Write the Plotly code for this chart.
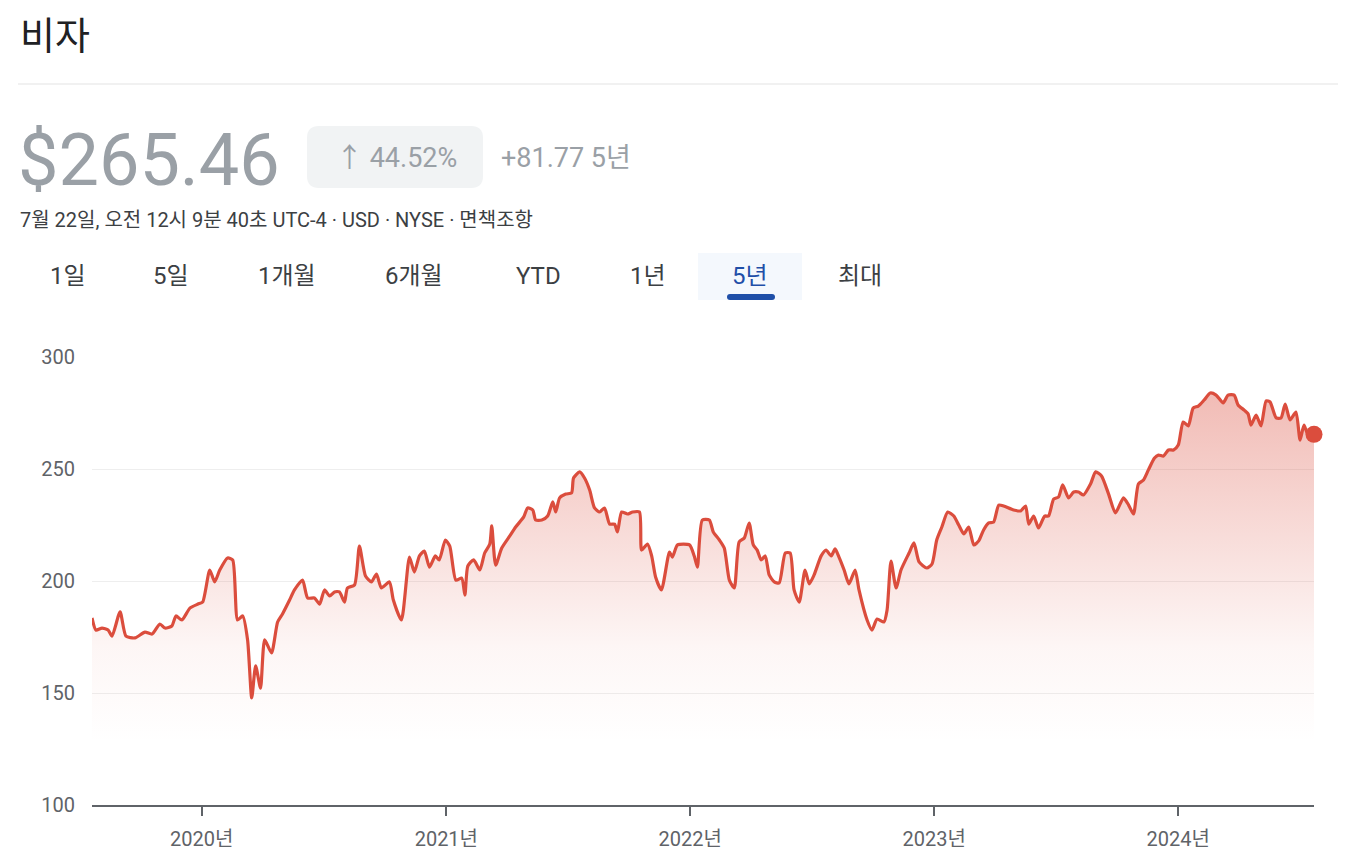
import pandas as pd
import plotly.graph_objects as go

# 비자 (V) 5년 주가 — 그림에서 읽은 근사값 (소수 연도, 종가 USD)
years = [
    2019.550, 2019.566, 2019.591, 2019.616, 2019.632, 2019.665, 2019.689, 2019.726, 2019.767, 2019.796,
    2019.828, 2019.849, 2019.877, 2019.894, 2019.918, 2019.951, 2019.984, 2020.004, 2020.033, 2020.053,
    2020.074, 2020.106, 2020.127, 2020.147, 2020.168, 2020.188, 2020.205, 2020.221, 2020.241, 2020.258,
    2020.286, 2020.311, 2020.331, 2020.360, 2020.380, 2020.413, 2020.434, 2020.462, 2020.483, 2020.503,
    2020.524, 2020.544, 2020.564, 2020.585, 2020.597, 2020.626, 2020.646, 2020.671, 2020.695, 2020.716,
    2020.736, 2020.769, 2020.785, 2020.818, 2020.851, 2020.871, 2020.892, 2020.912, 2020.933, 2020.957,
    2020.973, 2020.998, 2021.014, 2021.039, 2021.063, 2021.076, 2021.088, 2021.112, 2021.137, 2021.157,
    2021.178, 2021.186, 2021.202, 2021.227, 2021.260, 2021.284, 2021.317, 2021.333, 2021.354, 2021.366,
    2021.391, 2021.415, 2021.436, 2021.448, 2021.464, 2021.489, 2021.513, 2021.521, 2021.546, 2021.566,
    2021.587, 2021.607, 2021.628, 2021.648, 2021.669, 2021.689, 2021.701, 2021.718, 2021.742, 2021.763,
    2021.791, 2021.800, 2021.824, 2021.841, 2021.857, 2021.881, 2021.914, 2021.926, 2021.947, 2021.996,
    2022.016, 2022.029, 2022.049, 2022.078, 2022.094, 2022.119, 2022.139, 2022.160, 2022.180, 2022.200,
    2022.221, 2022.241, 2022.258, 2022.274, 2022.290, 2022.307, 2022.323, 2022.344, 2022.364, 2022.389,
    2022.409, 2022.425, 2022.446, 2022.470, 2022.487, 2022.507, 2022.536, 2022.556, 2022.577, 2022.593,
    2022.609, 2022.630, 2022.650, 2022.675, 2022.691, 2022.724, 2022.744, 2022.765, 2022.793, 2022.806,
    2022.822, 2022.843, 2022.863, 2022.896, 2022.916, 2022.937, 2022.969, 2022.990, 2023.010, 2023.031,
    2023.055, 2023.080, 2023.100, 2023.121, 2023.141, 2023.162, 2023.182, 2023.202, 2023.223, 2023.243,
    2023.264, 2023.284, 2023.325, 2023.354, 2023.374, 2023.387, 2023.407, 2023.427, 2023.452, 2023.468,
    2023.489, 2023.509, 2023.526, 2023.550, 2023.571, 2023.591, 2023.611, 2023.640, 2023.661, 2023.685,
    2023.714, 2023.742, 2023.775, 2023.796, 2023.816, 2023.836, 2023.857, 2023.877, 2023.902, 2023.918,
    2023.939, 2023.959, 2023.980, 2024.000, 2024.020, 2024.041, 2024.061, 2024.082, 2024.106, 2024.131,
    2024.155, 2024.184, 2024.204, 2024.229, 2024.245, 2024.270, 2024.286, 2024.298, 2024.319, 2024.339,
    2024.360, 2024.376, 2024.401, 2024.421, 2024.438, 2024.458, 2024.482, 2024.499, 2024.515, 2024.532,
    2024.556,
]
prices = [
    183.5, 178.1, 179.0, 178.1, 175.4, 186.2, 175.4, 174.6, 177.2, 176.3,
    180.8, 179.0, 179.9, 184.4, 182.6, 187.9, 189.7, 190.6, 204.9, 199.6,
    204.9, 210.3, 209.4, 182.6, 184.4, 173.7, 147.8, 162.1, 152.2, 173.7,
    167.9, 181.7, 185.3, 191.5, 196.0, 200.4, 192.4, 192.4, 189.7, 196.0,
    193.3, 195.1, 195.1, 190.6, 196.9, 198.2, 215.6, 202.2, 199.6, 203.1,
    196.9, 199.6, 191.5, 182.6, 210.7, 204.0, 211.2, 213.4, 206.2, 211.2,
    209.4, 218.3, 215.6, 200.4, 201.3, 193.7, 206.7, 209.4, 204.9, 212.5,
    216.5, 224.6, 207.1, 214.7, 220.1, 224.1, 228.6, 232.6, 231.7, 227.2,
    227.2, 229.0, 235.3, 230.8, 237.1, 238.8, 239.3, 246.0, 248.7, 246.0,
    240.6, 232.6, 230.8, 232.6, 225.4, 225.4, 221.9, 230.8, 229.9, 230.8,
    230.8, 213.8, 216.5, 211.2, 201.8, 196.0, 212.9, 210.7, 216.1, 216.1,
    211.2, 206.2, 227.2, 227.2, 221.9, 218.3, 214.7, 200.4, 196.9, 217.4,
    219.2, 225.9, 216.1, 213.8, 209.4, 211.2, 202.7, 199.6, 199.1, 212.5,
    212.5, 196.0, 190.6, 204.9, 198.7, 202.7, 211.2, 213.8, 211.2, 214.3,
    210.7, 204.9, 198.7, 204.9, 196.0, 182.6, 178.1, 183.0, 181.7, 187.1,
    208.9, 196.9, 204.9, 212.5, 217.0, 208.5, 205.8, 207.6, 218.3, 224.1,
    230.8, 229.0, 225.0, 221.0, 224.1, 216.1, 217.9, 222.8, 225.9, 226.3,
    233.9, 233.5, 231.7, 231.3, 233.5, 225.4, 229.0, 223.7, 229.0, 229.0,
    236.6, 237.5, 242.9, 237.1, 239.7, 239.7, 238.4, 243.3, 248.7, 246.9,
    238.8, 230.4, 237.1, 233.9, 229.9, 243.3, 245.1, 249.6, 254.9, 256.2,
    255.8, 258.5, 258.5, 260.7, 271.0, 269.2, 277.2, 278.1, 280.8, 283.9,
    283.0, 279.5, 283.0, 283.0, 278.6, 276.3, 274.6, 269.6, 274.1, 269.2,
    280.4, 279.9, 272.8, 272.8, 279.0, 271.9, 275.4, 262.9, 269.6, 265.2,
    265.46,
]
year_ticks = [2020, 2021, 2022, 2023, 2024]
year_labels = [f"{y}년" for y in year_ticks]
y_ticks = [100, 150, 200, 250, 300]
tabs = ["1일", "5일", "1개월", "6개월", "YTD", "1년", "5년", "최대"]
selected_tab = "5년"


def to_date(y):
    base = pd.Timestamp(int(y), 1, 1)
    return base + pd.Timedelta(days=(y - int(y)) * 365.25)


dates = [to_date(y) for y in years]

# 페이지 body 여백(8px) 보정
OFF = 8
W, H = 1346, 868
L, R, T, B = 92 - OFF, 32 + OFF, 357 - OFF, 63 + OFF
PW, PH = W - L - R, H - T - B


def px(x):
    return (x - OFF - L) / PW


def py(y):
    return 1 - (y - OFF - T) / PH


def rounded_rect(x0, y0, x1, y1, r):
    # 화면 픽셀 좌표 → paper 좌표의 둥근 사각형 path
    def P(x, y):
        return f"{px(x)},{py(y)}"
    return (f"M{P(x0 + r, y0)} L{P(x1 - r, y0)} Q{P(x1, y0)} {P(x1, y0 + r)} "
            f"L{P(x1, y1 - r)} Q{P(x1, y1)} {P(x1 - r, y1)} L{P(x0 + r, y1)} "
            f"Q{P(x0, y1)} {P(x0, y1 - r)} L{P(x0, y0 + r)} Q{P(x0, y0)} {P(x0 + r, y0)} Z")


FONT = "Roboto, Noto Sans CJK KR, sans-serif"
RED = "rgb(219,77,61)"

fig = go.Figure()
fig.add_trace(go.Scatter(
    x=dates, y=prices, mode="lines",
    line=dict(color=RED, width=3.2, shape="spline", smoothing=0.6),
    fill="tozeroy",
    fillgradient=dict(type="vertical", colorscale=[
        [0.0, "rgba(219,77,61,0)"],
        [0.45, "rgba(219,77,61,0.0)"],
        [0.6, "rgba(219,77,61,0.05)"],
        [1.0, "rgba(219,77,61,0.38)"],
    ]),
    hoverinfo="skip", showlegend=False,
))
fig.add_trace(go.Scatter(
    x=[dates[-1]], y=[prices[-1]], mode="markers", cliponaxis=False,
    marker=dict(color=RED, size=17), hoverinfo="skip", showlegend=False,
))

shapes = [
    dict(type="line", xref="paper", yref="paper", x0=px(18), x1=px(1346), y0=py(84), y1=py(84),
         line=dict(color="#e3e3e3", width=1)),
    dict(type="path", xref="paper", yref="paper", path=rounded_rect(307, 126, 483, 188, 12),
         fillcolor="#f1f3f4", line=dict(width=0), layer="below"),
]

annotations = [
    dict(text="비자", x=px(18), y=py(36), xanchor="left", yanchor="middle",
         font=dict(size=38, color="#202124")),
    dict(text="$265.46", x=px(16), y=py(160), xanchor="left", yanchor="middle",
         font=dict(size=72, color="#9aa0a6")),
    dict(text="↑ 44.52%", x=px(396), y=py(158), xanchor="center", yanchor="middle",
         font=dict(size=27, color="#9aa0a6")),
    dict(text="+81.77 5년", x=px(499), y=py(158), xanchor="left", yanchor="middle",
         font=dict(size=27, color="#9aa0a6")),
    dict(text="7월 22일, 오전 12시 9분 40초 UTC-4 · USD · NYSE · 면책조항", x=px(18), y=py(220),
         xanchor="left", yanchor="middle", font=dict(size=20, color="#3c4043")),
]

tab_x = [68, 171, 287, 414, 538, 648, 750, 860]
for name, cx in zip(tabs, tab_x):
    sel = name == selected_tab
    if sel:
        shapes.append(dict(type="rect", xref="paper", yref="paper", x0=px(698), x1=px(802),
                           y0=py(300), y1=py(253), fillcolor="#f4f8fd", line=dict(width=0), layer="below"))
        shapes.append(dict(type="path", xref="paper", yref="paper", path=rounded_rect(727, 294, 775, 300, 3),
                           fillcolor="#1f4fa8", line=dict(width=0)))
    annotations.append(dict(
        text=name, x=px(cx), y=py(276), xanchor="center", yanchor="middle",
        font=dict(size=24, color="#1f4fa8" if sel else "#3c4043", family=FONT),
    ))

for a in annotations:
    a.update(xref="paper", yref="paper", showarrow=False)
    a.setdefault("font", {}).setdefault("family", FONT)

fig.update_layout(
    width=W, height=H,
    margin=dict(l=L, r=R, t=T, b=B),
    paper_bgcolor="white", plot_bgcolor="white",
    font=dict(family=FONT, color="#5f6368"),
    shapes=shapes, annotations=annotations,
    xaxis=dict(
        range=[dates[0], dates[-1]],
        tickvals=[pd.Timestamp(y, 1, 1) for y in year_ticks], ticktext=year_labels,
        showgrid=False, showline=True, linecolor="#5f6368", linewidth=2,
        ticks="outside", ticklen=9, tickwidth=2, tickcolor="#5f6368", ticklabelstandoff=6,
        tickfont=dict(size=20, color="#5f6368"), fixedrange=True,
    ),
    yaxis=dict(
        range=[100, 300], tickvals=y_ticks, showgrid=True, gridcolor="#eeeeee", gridwidth=1,
        zeroline=False, showline=False, ticks="", ticklabelstandoff=16,
        tickfont=dict(size=20, color="#5f6368"), fixedrange=True,
    ),
)

fig.write_html("out.html")
